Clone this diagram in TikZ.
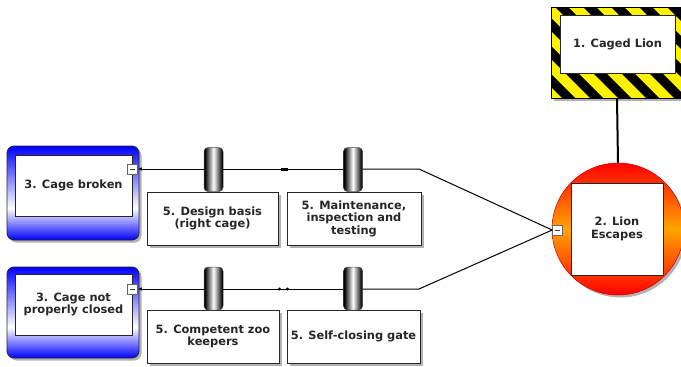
\documentclass[tikz,border=0pt]{standalone}
\usepackage{fontspec}
\setmainfont{DejaVu Sans}
\usetikzlibrary{shadows,arrows.meta}

% blue threat frame: blue top, white band low down, blue bottom
\pgfdeclareverticalshading{threatshade}{100bp}{color(0bp)=(blue); color(25bp)=(blue); color(42bp)=(white); color(75bp)=(blue); color(100bp)=(blue)}
% barrier barrel: dark edges, light middle
\pgfdeclarehorizontalshading{barrelshade}{100bp}{color(0bp)=(black); color(27bp)=(black); color(50bp)=(white); color(73bp)=(black); color(100bp)=(black)}
\definecolor{eventorange}{RGB}{255,165,0}

\tikzset{
  lbl/.style={font=\bfseries\fontsize{11.4}{12.4}\selectfont, text=black!85, align=center},
  shadowed/.style={drop shadow={shadow xshift=2.5pt, shadow yshift=-2.5pt, fill=black, opacity=0.3}},
  whitebox/.style={draw=black!85, fill=white, line width=0.8pt, inner sep=0pt, lbl},
  barrierbox/.style={whitebox, shadowed},
  threatframe/.style={draw=black!85, line width=0.8pt, rounded corners=7pt, shading=threatshade, inner sep=0pt, shadowed},
  barrel/.style={draw=black!70, line width=0.5pt, shading=barrelshade, rounded corners=4pt, minimum width=19pt, minimum height=44pt, inner sep=0pt},
  btn/.style={draw=black!60, fill=white, line width=0.6pt, minimum size=10pt, inner sep=0pt,
    path picture={\draw[black!75, line width=1pt] ([xshift=-2.5pt]path picture bounding box.center) -- ([xshift=2.5pt]path picture bounding box.center);}},
  wire/.style={draw=black, line width=1pt},
  hazard/.style={draw=black, line width=0.8pt, fill=yellow, inner sep=0pt, shadowed,
    path picture={\foreach \k in {-4,...,5} {\fill[black] ([xshift=4pt+\k*28pt]path picture bounding box.north west) -- ++(13pt,0pt) -- ++(100pt,-100pt) -- ++(-13pt,0pt) -- cycle;}}},
}

\begin{document}
\begin{tikzpicture}[x=1pt,y=-1pt]
\useasboundingbox (0,0) rectangle (681,367);

% top event (hazard) with striped frame
\node[hazard, minimum width=132pt, minimum height=91pt] (frame) at (617,52.5) {};
\node[whitebox, minimum width=115pt, minimum height=58pt] (hz) at (617.5,44) {1. Caged Lion};

% central event
\node[circle, draw=red!80!black, line width=0.5pt, minimum size=132pt, top color=red, bottom color=red, middle color=eventorange, shadowed] (circ) at (618,229) {};
\node[whitebox, minimum size=92pt] (te) at (617,229) {2. Lion\\Escapes};
\node[btn] (btnC) at (557.5,230) {};

\draw[line width=2pt] (frame.south) -- (circ.north);

% threats
\node[threatframe, minimum width=132pt, minimum height=94pt] (th1) at (73,193) {};
\node[whitebox, minimum width=117pt, minimum height=61pt] (t1) at (73.5,185.5) {3. Cage broken};
\node[btn] (btn1) at (132.5,169) {};

\node[threatframe, minimum width=132pt, minimum height=91pt] (th2) at (73,312.5) {};
\node[whitebox, minimum width=117pt, minimum height=61pt] (t2) at (73.5,304.5) {3. Cage not\\properly closed};
\node[btn] (btn2) at (132.5,289) {};

% barrier boxes
\node[barrierbox, minimum width=131pt, minimum height=53pt] (d11) at (212.5,218.5) {5. Design basis\\(right cage)};
\node[barrierbox, minimum width=134pt, minimum height=53pt] (d12) at (354,218.5) {5. Maintenance,\\inspection and\\testing};
\node[barrierbox, minimum width=132pt, minimum height=53pt] (d21) at (213,336.5) {5. Competent zoo\\keepers};
\node[barrierbox, minimum width=133pt, minimum height=53pt] (d22) at (353.5,336.5) {5. Self-closing gate};

% barrels on the lines
\node[barrel] (b11) at (213.5,169.5) {};
\node[barrel] (b12) at (353,169.5) {};
\node[barrel, minimum height=43pt] (b21) at (213.5,288.5) {};
\node[barrel, minimum height=43pt] (b22) at (353,288.5) {};

% bend points of the lines
\coordinate (jA) at (419,169);
\coordinate (jB) at (419,289);

% upper threat line
\draw[wire, -{Latex[length=4pt,width=3.5pt]}] (b11.west |- btn1.east) -- (btn1.east);
\draw[wire] (b11.east |- jA) -- (b12.west |- jA);
\draw[wire] (b12.east |- jA) -- (jA) -- (btnC.west);
\coordinate (mA1) at (281,169);
\coordinate (mA2) at (288,169);
\draw[line width=3pt] (mA1) -- (mA2);

% lower threat line
\draw[wire, -{Latex[length=4pt,width=3.5pt]}] (b21.west |- btn2.east) -- (btn2.east);
\draw[wire] (b21.east |- jB) -- (b22.west |- jB);
\draw[wire] (b22.east |- jB) -- (jB) -- (btnC.west);
\coordinate (mB1) at (279.5,289);
\coordinate (mB2) at (287.5,289);
\fill (mB1) circle (1.6pt) (mB2) circle (1.6pt);
\end{tikzpicture}
\end{document}
